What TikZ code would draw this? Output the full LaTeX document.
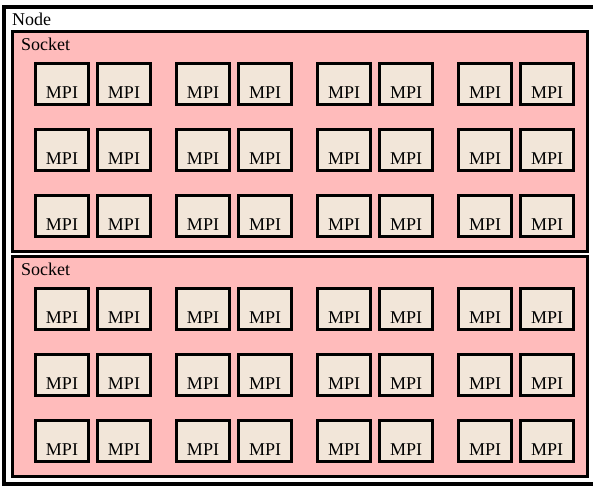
\documentclass[tikz,border=0pt]{standalone}
\usepackage{fontspec}
\setmainfont{Liberation Serif}
\definecolor{sockpink}{HTML}{FFBBBB}
\definecolor{mpibeige}{HTML}{F2E6D9}
\begin{document}
\begin{tikzpicture}[x=1pt,y=-1pt,
  nodebox/.style={draw=black,line width=4pt,fill=white},
  sockbox/.style={draw=black,line width=3pt,fill=sockpink},
  mpibox/.style={draw=black,line width=3pt,fill=mpibeige,anchor=north west,
    minimum width=53pt,minimum height=41pt,inner sep=0pt,
    text height=29pt,text depth=0pt,font=\fontsize{18}{18}\selectfont},
  lbl/.style={anchor=base west,inner sep=0pt,font=\fontsize{18}{18}\selectfont}]
\useasboundingbox (0,0) rectangle (593,485);
\path[nodebox] (3.5,7) rectangle (598,483.5);
\node[lbl] (nodelbl) at (12,25.5) {Node};
\foreach \s/\top in {1/31,2/256}{
  \path[sockbox] (12,\top) rectangle (587.5,\top+220);
  \node[lbl] (socklbl\s) at (21,\top+19) {Socket};
  \foreach \r/\dy in {1/31,2/97,3/163}{
    \foreach \c/\x in {1/34,2/96,3/175,4/237,5/316,6/378,7/457,8/519}{
      \node[mpibox] (m-\s-\r-\c) at (\x,\top+\dy) {MPI};
    }
  }
}
\end{tikzpicture}
\end{document}
